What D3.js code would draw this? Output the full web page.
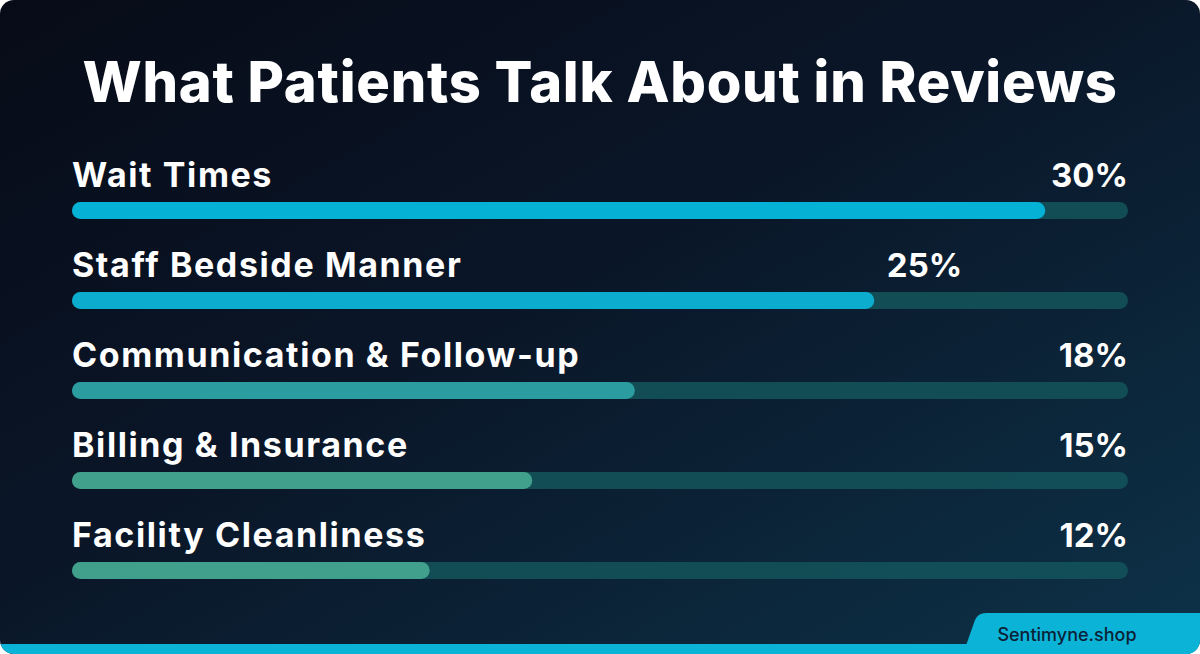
<!DOCTYPE html>
<html>
<head>
<meta charset="utf-8">
<script src="https://cdn.jsdelivr.net/npm/d3@7"></script>
<style>
  html, body { margin: 0; padding: 0; background: #ffffff; }
  svg { display: block; }
</style>
</head>
<body>
<div id="chart"></div>
<script>
// data
const topics = ['Wait Times', 'Staff Bedside Manner', 'Communication & Follow-up', 'Billing & Insurance', 'Facility Cleanliness'];
const shares = [30, 25, 18, 15, 12];
const shareLabels = ['30%', '25%', '18%', '15%', '12%'];
const barColors = ['#05b2d6', '#0caccf', '#2b9ca0', '#40a08c', '#41a08b'];

const width = 1200;
const height = 654;
const left = 72;
const right = 1128;

const svg = d3.select('#chart').append('svg')
    .attr('width', width)
    .attr('height', height);

const defs = svg.append('defs');
const bg = defs.append('linearGradient').attr('id', 'bg')
    .attr('x1', '0%').attr('y1', '0%').attr('x2', '100%').attr('y2', '100%');
bg.append('stop').attr('offset', '0%').attr('stop-color', '#070b17');
bg.append('stop').attr('offset', '45%').attr('stop-color', '#0a1628');
bg.append('stop').attr('offset', '100%').attr('stop-color', '#0d3248');

defs.append('clipPath').attr('id', 'card')
  .append('rect')
    .attr('width', width).attr('height', height)
    .attr('rx', 14);

const card = svg.append('g').attr('clip-path', 'url(#card)');

card.append('rect')
    .attr('width', width)
    .attr('height', height)
    .attr('fill', 'url(#bg)');

// title
card.append('text')
    .attr('x', width / 2)
    .attr('y', 102)
    .attr('text-anchor', 'middle')
    .attr('fill', '#ffffff')
    .attr('font-family', 'Inter, "Open Sans", sans-serif')
    .attr('font-weight', 800)
    .attr('font-size', 56)
    .attr('letter-spacing', 0.75)
    .text('What Patients Talk About in Reviews');

// bars in the original don't start at zero, fitted offset
let x = d3.scaleLinear()
    .domain([1.54, 32.42])
    .range([left, right]);

let y = d3.scaleBand()
    .domain(topics)
    .range([165, 615]);

const barH = 17;

let rows = card.selectAll('g.row').data(topics).enter().append('g')
    .attr('class', 'row')
    .attr('transform', d => 'translate(0,' + y(d) + ')');

// track
rows.append('rect')
    .attr('x', left)
    .attr('y', 37)
    .attr('width', right - left)
    .attr('height', barH)
    .attr('rx', barH / 2)
    .attr('fill', '#13525a')
    .attr('opacity', 0.9);

// filled bar
rows.append('rect')
    .attr('x', left)
    .attr('y', 37)
    .attr('width', (d, i) => x(shares[i]) - left)
    .attr('height', barH)
    .attr('rx', barH / 2)
    .attr('fill', (d, i) => barColors[i]);

rows.append('text')
    .attr('x', left)
    .attr('y', 22)
    .attr('fill', '#ffffff')
    .attr('font-family', 'Inter, "Open Sans", sans-serif')
    .attr('font-weight', 700)
    .attr('font-size', 34)
    .attr('letter-spacing', 1.6)
    .text(d => d);

// the 25% label sits off the right edge in the original
rows.append('text')
    .attr('x', (d, i) => i === 1 ? x(shares[i]) + 88 : right)
    .attr('y', 22)
    .attr('text-anchor', 'end')
    .attr('fill', '#ffffff')
    .attr('font-family', 'Inter, "Open Sans", sans-serif')
    .attr('font-weight', 700)
    .attr('font-size', 33)
    .text((d, i) => shareLabels[i]);

// footer strip and tab
card.append('rect')
    .attr('x', 0).attr('y', 644)
    .attr('width', width).attr('height', 10)
    .attr('fill', '#0bb4d6');

card.append('path')
    .attr('d', 'M963,654 L975,620 Q978,613 986,613 L1200,613 L1200,654 Z')
    .attr('fill', '#0bb4d6');

card.append('text')
    .attr('x', 1067)
    .attr('y', 641)
    .attr('text-anchor', 'middle')
    .attr('fill', '#0c2236')
    .attr('font-family', 'Inter, "Open Sans", sans-serif')
    .attr('font-weight', 500)
    .attr('font-size', 18)
    .text('Sentimyne.shop');
</script>
</body>
</html>
